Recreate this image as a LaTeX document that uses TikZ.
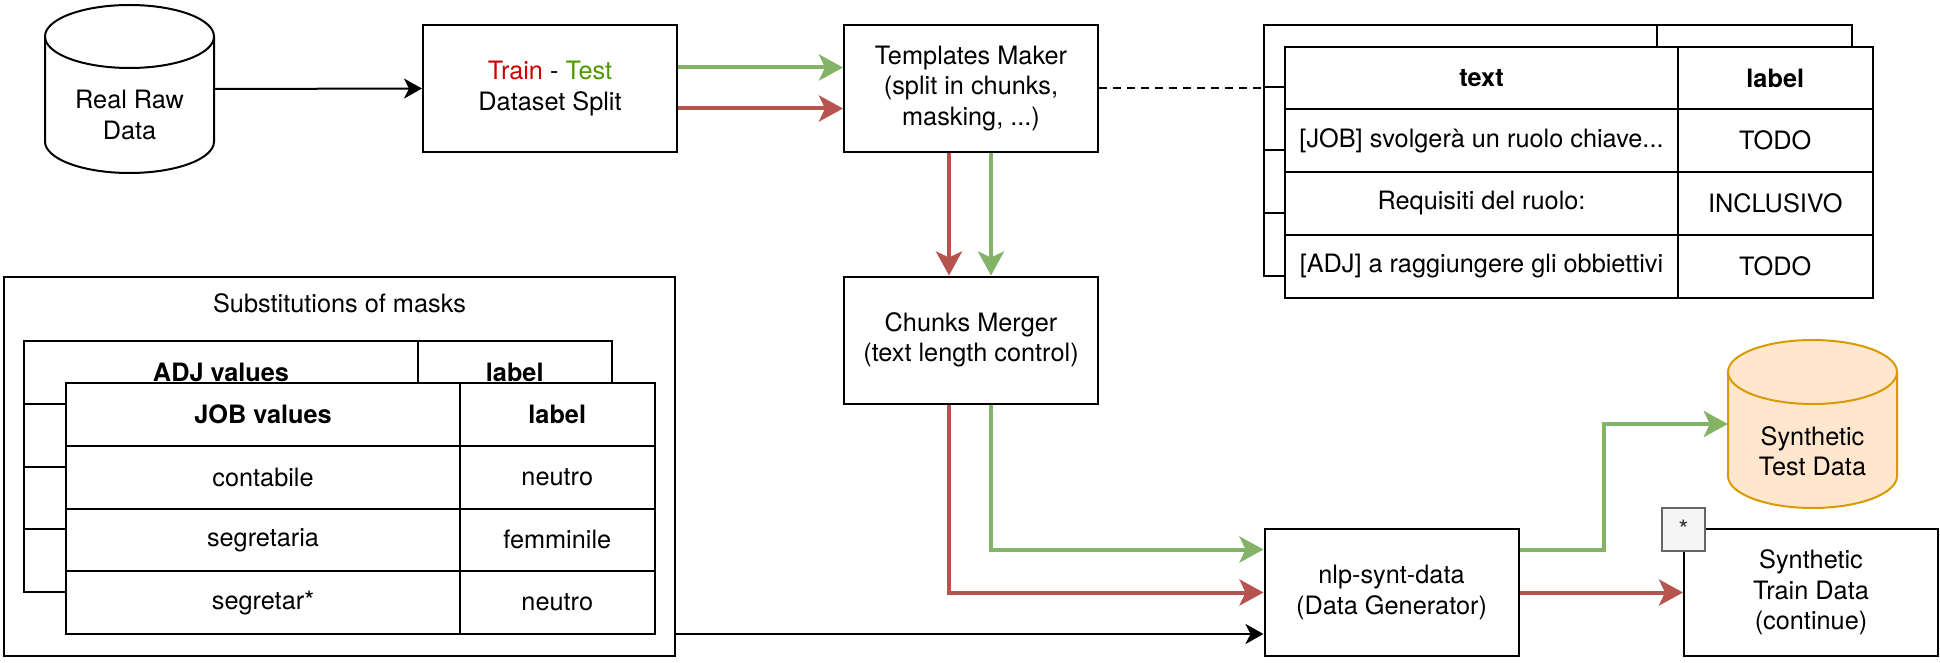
\documentclass[tikz,border=0pt]{standalone}
\usepackage{fontspec}
\setmainfont{TeX Gyre Heros}
\usepackage{tikz}
\usetikzlibrary{arrows.meta}

\definecolor{trainred}{HTML}{B85450}
\definecolor{testgreen}{HTML}{82B366}
\definecolor{traintext}{HTML}{CC0000}
\definecolor{testtext}{HTML}{4D9900}
\definecolor{synthfill}{HTML}{FFE6CC}
\definecolor{synthline}{HTML}{D79B00}
\definecolor{notefill}{HTML}{F5F5F5}
\definecolor{noteline}{HTML}{666666}
\definecolor{notetext}{HTML}{333333}

\tikzset{
	stage/.style={draw, line width=2pt, fill=white, align=center, inner sep=0pt, minimum width=254pt, minimum height=127pt},
	tabcell/.style={draw, line width=2pt, fill=white, inner sep=0pt, minimum height=62.75pt},
	tcell/.style={tabcell, minimum width=393.5pt},
	lcell/.style={tabcell, minimum width=194.5pt},
	plainflow/.style={line width=2pt, -{Stealth[length=18pt, width=20pt, inset=5pt]}},
	trainflow/.style={trainred, line width=4pt, -{Stealth[length=24pt, width=26pt, inset=6pt]}},
	testflow/.style={testgreen, line width=4pt, -{Stealth[length=24pt, width=26pt, inset=6pt]}}
}

\begin{document}
\begin{tikzpicture}[x=1pt, y=-1pt, font=\fontsize{25.3}{30.4}\selectfont]
	\useasboundingbox (0,0) rectangle (1940,663);

	% Real raw data
	\draw[line width=2pt, fill=white] (45,36.5) -- (45,141.5) arc[start angle=180, end angle=0, x radius=84.5, y radius=31.5] -- (214,36.5) arc[start angle=0, end angle=-180, x radius=84.5, y radius=31.5] -- cycle;
	\draw[line width=2pt] (45,36.5) arc[start angle=180, end angle=0, x radius=84.5, y radius=31.5];
	\node[inner sep=0pt, minimum width=169pt, minimum height=168pt] (raw) at (129.5,89) {};
	\node[align=center] (rawname) at (129.5,115) {Real Raw\\Data};

	\node[stage] (split) at (550,88.5) {{\color{traintext}Train} - {\color{testtext}Test}\\Dataset Split};
	\node[stage] (templates) at (971,88.5) {Templates Maker\\(split in chunks,\\masking, ...)};
	\node[stage] (merger) at (971,340) {Chunks Merger\\(text length control)};
	\node[stage] (generator) at (1391.5,592.5) {nlp-synt-data\\(Data Generator)};
	\node[stage] (synthtrain) at (1811,592.5) {Synthetic\\Train Data\\(continue)};
	\node[draw=noteline, fill=notefill, text=notetext, line width=2pt, inner sep=0pt, minimum width=43pt, minimum height=43pt] (note) at (1683.5,529.5) {*};

	% Synthetic test data
	\draw[draw=synthline, fill=synthfill, line width=2pt] (1728,372) -- (1728,476) arc[start angle=180, end angle=0, x radius=84.5, y radius=32] -- (1897,372) arc[start angle=0, end angle=-180, x radius=84.5, y radius=32] -- cycle;
	\draw[draw=synthline, line width=2pt] (1728,372) arc[start angle=180, end angle=0, x radius=84.5, y radius=32];
	\node[inner sep=0pt, minimum width=169pt, minimum height=168pt] (synthtest) at (1812.5,424) {};
	\node[align=center] (synthtestname) at (1812.5,451) {Synthetic\\Test Data};

	% Templates, copy behind
	\node[tcell] (btt0) at (1460.5,56) {};
	\node[lcell] (btl0) at (1754.25,56) {};
	\node[tcell] (btt1) at (1460.5,118.75) {};
	\node[lcell] (btl1) at (1754.25,118.75) {};
	\node[tcell] (btt2) at (1460.5,181.5) {};
	\node[lcell] (btl2) at (1754.25,181.5) {};
	\node[tcell] (btt3) at (1460.5,244.25) {};
	\node[lcell] (btl3) at (1754.25,244.25) {};
	% Templates
	\node[tcell] (tt0) at (1481.5,78) {\textbf{text}};
	\node[lcell] (tl0) at (1775.25,78) {\textbf{label}};
	\node[tcell] (tt1) at (1481.5,140.75) {[JOB] svolgerà un ruolo chiave...};
	\node[lcell] (tl1) at (1775.25,140.75) {TODO};
	\node[tcell] (tt2) at (1481.5,203.5) {Requisiti del ruolo:};
	\node[lcell] (tl2) at (1775.25,203.5) {INCLUSIVO};
	\node[tcell] (tt3) at (1481.5,266.25) {[ADJ] a raggiungere gli obbiettivi};
	\node[lcell] (tl3) at (1775.25,266.25) {TODO};

	% Substitutions of masks
	\node[draw, line width=2pt, minimum width=671pt, minimum height=379pt] (masks) at (339.5,466.5) {};
	\node (maskstitle) at (339.5,303) {Substitutions of masks};
	% ADJ values
	\node[tcell] (adj0) at (221,372.4) {\textbf{ADJ values}};
	\node[lcell] (adjl0) at (514.75,372.4) {\textbf{label}};
	\node[tcell] (adj1) at (221,435.15) {};
	\node[lcell] (adjl1) at (514.75,435.15) {};
	\node[tcell] (adj2) at (221,497.9) {};
	\node[lcell] (adjl2) at (514.75,497.9) {};
	\node[tcell] (adj3) at (221,560.65) {};
	\node[lcell] (adjl3) at (514.75,560.65) {};
	% JOB values
	\node[tcell] (job0) at (263,414.4) {\textbf{JOB values}};
	\node[lcell] (jobl0) at (557.25,414.4) {\textbf{label}};
	\node[tcell] (job1) at (263,477.15) {contabile};
	\node[lcell] (jobl1) at (557.25,477.15) {neutro};
	\node[tcell] (job2) at (263,539.9) {segretaria};
	\node[lcell] (jobl2) at (557.25,539.9) {femminile};
	\node[tcell] (job3) at (263,602.65) {segretar*};
	\node[lcell] (jobl3) at (557.25,602.65) {neutro};

	% Real data
	\draw[plainflow] (raw.east) -- (split.west);
	\draw[testflow] ([yshift=21pt]split.east) -- ([yshift=21pt]templates.west);
	\draw[trainflow] ([yshift=-20pt]split.east) -- ([yshift=-20pt]templates.west);
	\draw[line width=2pt, dash pattern=on 8pt off 6pt] (templates.east) -- (templates.east -| btt1.west);
	% Templates
	\draw[trainflow] ([xshift=-22pt]templates.south) -- ([xshift=-22pt]templates.south |- merger.north);
	\draw[testflow] ([xshift=20pt]templates.south) -- ([xshift=20pt]templates.south |- merger.north);
	% Chunks
	\draw[trainflow] ([xshift=-22pt]merger.south) |- (generator.west);
	\draw[testflow] ([xshift=20pt]merger.south) |- ([yshift=43pt]generator.west);
	% Masks
	\coordinate (jobin) at ([yshift=-41.5pt]generator.west);
	\draw[plainflow] (masks.east |- jobin) -- (jobin);
	% Generator
	\draw[testflow] ([yshift=43pt]generator.east) -- ++(84,0) |- (synthtest.west);
	\draw[trainflow] (generator.east) -- (synthtrain.west);
\end{tikzpicture}
\end{document}
